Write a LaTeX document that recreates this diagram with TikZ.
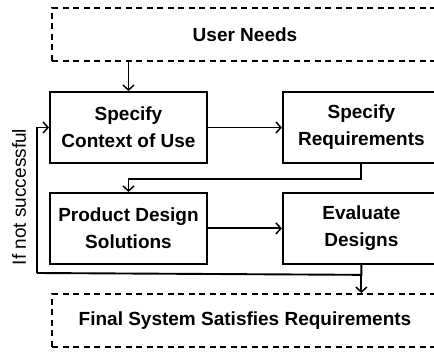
\documentclass[tikz,border=0pt]{standalone}
\usepackage{fontspec}
\setmainfont{Liberation Sans}
\usetikzlibrary{positioning,calc,arrows.meta}
\tikzset{block/.style={draw,line width=1.9pt,minimum width=157pt,minimum height=71pt,align=center,inner sep=0pt,font=\fontsize{19}{27}\selectfont\bfseries},
         goal/.style={draw,dashed,line width=1.9pt,dash pattern=on 6pt off 4.5pt,minimum width=386pt,minimum height=53pt,align=center,inner sep=0pt,font=\fontsize{19}{27}\selectfont\bfseries},
         line/.style={-{Straight Barb[length=5pt,width=11pt,line width=1.5pt]},line width=1.9pt}
}
\begin{document}
\begin{tikzpicture}[x=1pt,y=-1pt]
  \useasboundingbox (0,0) rectangle (434,351);
  \node[goal] (needs) at (245,34.5) {User Needs};
  \node[block] (ctx) at (128.5,127.5) {Specify\\Context of Use};
  \node[block, right=74pt of ctx] (req) {Specify\\Requirements};
  \node[block, below=28pt of ctx] (prod) {Product Design\\Solutions};
  \node[block, right=74pt of prod] (eval) {Evaluate\\Designs};
  \node[goal] (final) at (245,320.5) {Final System Satisfies Requirements};
  \node[rotate=90,font=\fontsize{19}{21}\selectfont] (fail) at (19,197) {If not successful};

  \coordinate (split) at ($(eval.south)+(0,10)$);
  \coordinate (loop) at (37,273);

  \draw[line] (needs.south -| ctx.north) -- (ctx.north);
  \draw[line] (ctx) -- (req);
  \draw[line] (req.south) -- ++(0,15) -| (prod.north);
  \draw[line] (prod) -- (eval);
  \draw[line width=1.9pt] (eval.south) -- (split) -- (loop);
  \draw[line] (loop) |- (ctx.west);
  \draw[line] (split) -- (split |- final.north);
\end{tikzpicture}
\end{document}
